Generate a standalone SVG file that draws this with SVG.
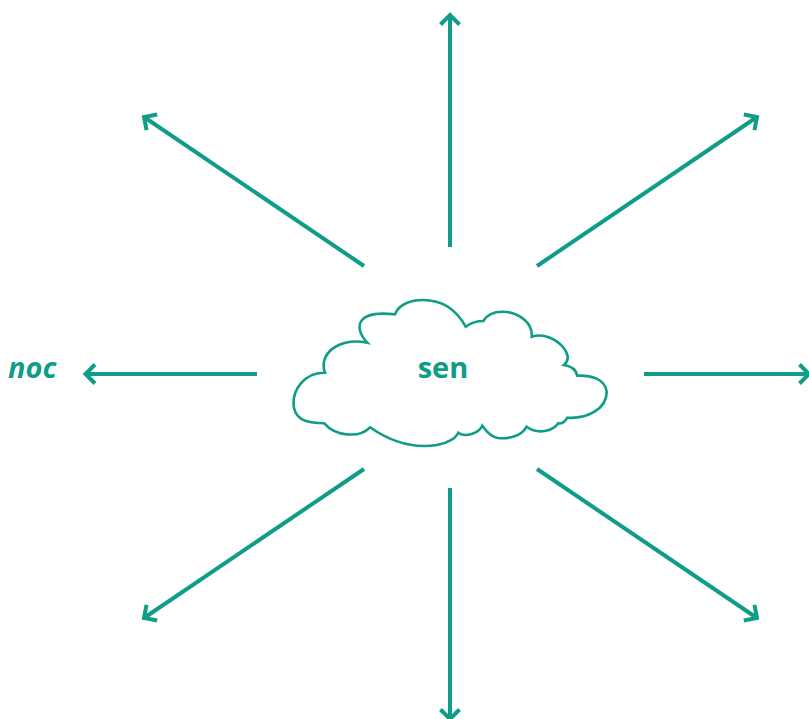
<svg xmlns="http://www.w3.org/2000/svg" width="809" height="719" viewBox="0 0 809 719">
<style>
.c{fill:none;stroke:#0f9d87;stroke-width:4}
.t{fill:#0f9d87;font-family:"Open Sans",sans-serif;font-weight:700;font-size:29px}
</style>
<defs>
<marker id="a" markerUnits="userSpaceOnUse" markerWidth="30" markerHeight="30" refX="15" refY="15" orient="auto" overflow="visible">
<path d="M5.500 5.500 L15 15 L5.500 24.500" fill="none" stroke="#0f9d87" stroke-width="4"/>
</marker>
</defs>
<rect width="809" height="719" fill="#fff"/>
<g id="connectors">
<path class="c" marker-end="url(#a)" d="M450 247V15"/>
<path class="c" marker-end="url(#a)" d="M450 488V719"/>
<path class="c" marker-end="url(#a)" d="M257 374H85.500"/>
<path class="c" marker-end="url(#a)" d="M644 374H809"/>
<path class="c" marker-end="url(#a)" d="M364 266L144 117"/>
<path class="c" marker-end="url(#a)" d="M537 266L757 117"/>
<path class="c" marker-end="url(#a)" d="M364 469L144 618"/>
<path class="c" marker-end="url(#a)" d="M537 469L757 618"/>
</g>
<g id="cloud">
<path d="M325 372.700C321 362 326 352 336 346.500C345 341.500 356 340.500 367.300 342.700C360 335 357 326 362 320C368 313 381 313 395 314.300C399 304 411 300 423 300C442 300 456 309 465.700 326.700C471 323 476 321 483.300 321C488 313 497 311 507 312C520 314 533 323 531.700 336.700C544 333 556 339 563 347C568 353 570 360 564 365C571 366 576 369 577.300 375.700C591 375 605 379 606.700 391.700C607 409 587 419 567.300 417.700C565 422 562 424 558.300 423.300C553 431 538 435 526.700 426.700C521 437 508 439 498 438C491 437 486 431 482.300 425.700C479 433 465 438 458.300 432.700C456 438 448 443 437 445C412 449 391 442 370 427.300C360 438 336 437 324.300 423.300C311 423 297 422 294 408C291 390 305 372 325 372.700Z" fill="#fff" stroke="#0f9d87" stroke-width="2.600" stroke-linejoin="miter"/>
<text class="t" x="443" y="378" text-anchor="middle">sen</text>
</g>
<g id="noc">
<text class="t" x="8" y="378" font-style="italic">noc</text>
</g>
</svg>
